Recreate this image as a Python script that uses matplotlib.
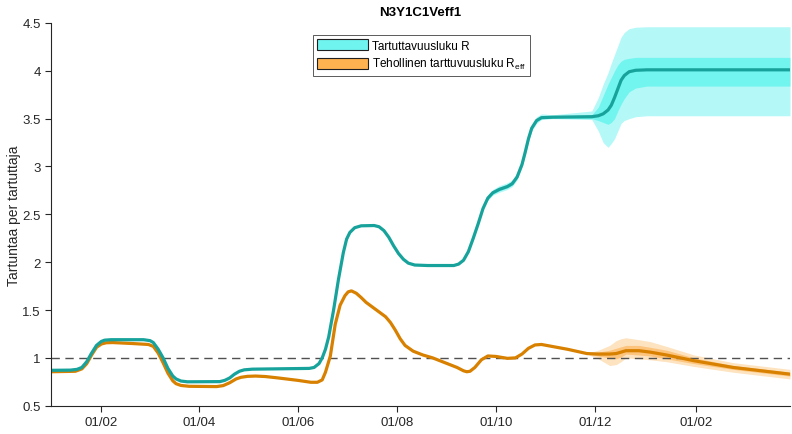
import pandas as pd
import matplotlib.pyplot as plt
import matplotlib.dates as mdates
from matplotlib.patches import Patch
from matplotlib.ticker import FuncFormatter

plt.rcParams['font.family'] = ['Liberation Sans', 'DejaVu Sans']

# Tartuttavuusluku R
r_dates = ['2020-01-01', '2020-01-13', '2020-01-17', '2020-01-20', '2020-01-23', '2020-01-26',
           '2020-01-29', '2020-02-01', '2020-02-03', '2020-02-07', '2020-02-27', '2020-03-02',
           '2020-03-04', '2020-03-07', '2020-03-10', '2020-03-13', '2020-03-16', '2020-03-18',
           '2020-03-21', '2020-03-25', '2020-04-14', '2020-04-17', '2020-04-20', '2020-04-23',
           '2020-04-26', '2020-04-29', '2020-05-04', '2020-06-08', '2020-06-11', '2020-06-14',
           '2020-06-16', '2020-06-18', '2020-06-20', '2020-06-23', '2020-06-26', '2020-06-29',
           '2020-07-01', '2020-07-03', '2020-07-06', '2020-07-10', '2020-07-18', '2020-07-21',
           '2020-07-24', '2020-07-27', '2020-07-30', '2020-08-02', '2020-08-05', '2020-08-08',
           '2020-08-12', '2020-08-20', '2020-09-05', '2020-09-08', '2020-09-11', '2020-09-14',
           '2020-09-17', '2020-09-20', '2020-09-23',
           '2020-09-26', '2020-09-29', '2020-10-03', '2020-10-08', '2020-10-11', '2020-10-14',
           '2020-10-17', '2020-10-19', '2020-10-21', '2020-10-23', '2020-10-26', '2020-10-29',
           '2020-11-05', '2020-11-29', '2020-12-03', '2020-12-06', '2020-12-09', '2020-12-11',
           '2020-12-13', '2020-12-15', '2020-12-17', '2020-12-19', '2020-12-22', '2020-12-26',
           '2021-01-02', '2021-03-31']
r_values = [0.87, 0.872, 0.88, 0.90, 0.96, 1.05,
            1.13, 1.172, 1.185, 1.19, 1.19, 1.18,
            1.16, 1.09, 1.00, 0.89, 0.81, 0.78,
            0.758, 0.75, 0.752, 0.765, 0.79, 0.83,
            0.86, 0.875, 0.882, 0.89, 0.90, 0.94,
            1.00, 1.09, 1.22, 1.50, 1.82, 2.10,
            2.24, 2.31, 2.36, 2.38, 2.383, 2.37,
            2.33, 2.26, 2.17, 2.09, 2.03, 1.99,
            1.97, 1.965, 1.965, 1.98, 2.02, 2.11,
            2.25, 2.40, 2.56,
            2.67, 2.725, 2.76, 2.79, 2.82, 2.89,
            3.02, 3.15, 3.29, 3.40, 3.48, 3.51,
            3.515, 3.52, 3.53, 3.55, 3.59, 3.64,
            3.72, 3.81, 3.90, 3.95, 3.99, 4.005,
            4.01, 4.01]

# uncertainty bands of R (from 26/09 on, same dates as the line)
r_band_dates = r_dates[57:]
r_outer_hi = [2.70, 2.76, 2.80, 2.83, 2.86, 2.93, 3.05, 3.18, 3.32, 3.43, 3.52, 3.55,
              3.54, 3.58, 3.72, 3.86, 3.98, 4.08, 4.17, 4.26, 4.35, 4.40, 4.44, 4.455,
              4.46, 4.46]
r_outer_lo = [2.645, 2.70, 2.73, 2.76, 2.79, 2.86, 2.99, 3.12, 3.26, 3.37, 3.45, 3.49,
              3.50, 3.49, 3.37, 3.25, 3.20, 3.24, 3.29, 3.37, 3.45, 3.48, 3.50, 3.52,
              3.53, 3.53]
r_inner_hi = [2.69, 2.745, 2.785, 2.815, 2.845, 2.91, 3.035, 3.165, 3.305, 3.415, 3.50, 3.53,
              3.525, 3.54, 3.62, 3.74, 3.86, 3.93, 4.00, 4.06, 4.10, 4.12, 4.13, 4.14,
              4.14, 4.14]
r_inner_lo = [2.655, 2.71, 2.745, 2.775, 2.805, 2.875, 3.005, 3.135, 3.275, 3.385, 3.465, 3.50,
              3.505, 3.50, 3.48, 3.46, 3.44, 3.46, 3.50, 3.58, 3.65, 3.71, 3.78, 3.82,
              3.84, 3.84]

# Tehollinen tarttuvuusluku Reff
reff_dates = ['2020-01-01', '2020-01-16', '2020-01-20', '2020-01-23', '2020-01-26', '2020-01-29',
              '2020-02-01', '2020-02-04', '2020-02-08', '2020-02-20', '2020-03-01', '2020-03-04',
              '2020-03-07', '2020-03-10', '2020-03-13', '2020-03-16', '2020-03-18', '2020-03-21',
              '2020-03-26', '2020-04-12', '2020-04-16', '2020-04-20', '2020-04-24', '2020-04-27',
              '2020-05-01', '2020-05-06', '2020-05-12', '2020-05-20', '2020-06-01', '2020-06-09',
              '2020-06-13', '2020-06-16', '2020-06-18', '2020-06-21', '2020-06-24', '2020-06-27',
              '2020-06-30', '2020-07-02', '2020-07-04', '2020-07-07', '2020-07-10', '2020-07-13',
              '2020-07-21', '2020-07-25', '2020-07-28', '2020-07-31', '2020-08-03', '2020-08-06',
              '2020-08-11', '2020-08-17', '2020-08-23', '2020-09-01', '2020-09-07', '2020-09-11',
              '2020-09-13', '2020-09-15', '2020-09-18', '2020-09-22', '2020-09-26', '2020-10-01',
              '2020-10-08', '2020-10-13', '2020-10-17', '2020-10-21', '2020-10-25', '2020-10-29',
              '2020-11-14',
              '2020-11-26', '2020-12-03', '2020-12-10', '2020-12-14', '2020-12-17', '2020-12-20',
              '2020-12-28', '2021-01-04', '2021-01-14', '2021-01-31', '2021-02-24', '2021-03-31']
reff_values = [0.855, 0.86, 0.885, 0.94, 1.03, 1.11,
               1.145, 1.158, 1.16, 1.15, 1.14, 1.12,
               1.05, 0.95, 0.84, 0.76, 0.73, 0.712,
               0.703, 0.70, 0.71, 0.74, 0.78, 0.797,
               0.807, 0.81, 0.805, 0.79, 0.765, 0.745,
               0.745, 0.77, 0.85, 1.02, 1.35, 1.55,
               1.65, 1.69, 1.70, 1.675, 1.63, 1.58,
               1.48, 1.43, 1.37, 1.29, 1.20, 1.13,
               1.07, 1.03, 1.00, 0.94, 0.90, 0.865,
               0.855, 0.86, 0.90, 0.98, 1.02, 1.015,
               0.995, 1.00, 1.04, 1.10, 1.135, 1.14,
               1.09,
               1.045, 1.04, 1.04, 1.045, 1.06, 1.075,
               1.075, 1.06, 1.03, 0.97, 0.90, 0.83]

reff_band_dates = reff_dates[67:]
reff_outer_hi = [1.05, 1.08, 1.13, 1.18, 1.20, 1.21, 1.19, 1.17, 1.12, 1.03, 0.95, 0.88]
reff_outer_lo = [1.04, 0.99, 0.92, 0.93, 0.96, 1.00, 0.99, 0.98, 0.96, 0.91, 0.85, 0.78]
reff_inner_hi = [1.05, 1.06, 1.08, 1.10, 1.115, 1.13, 1.13, 1.11, 1.08, 1.00, 0.92, 0.85]
reff_inner_lo = [1.04, 1.02, 1.00, 0.99, 1.01, 1.04, 1.03, 1.02, 0.99, 0.94, 0.88, 0.81]

tick_dates = ['2020-02-01', '2020-04-01', '2020-06-01', '2020-08-01', '2020-10-01',
              '2020-12-01', '2021-02-01']

r_x = pd.to_datetime(r_dates)
r_bx = pd.to_datetime(r_band_dates)
e_x = pd.to_datetime(reff_dates)
e_bx = pd.to_datetime(reff_band_dates)

fig = plt.figure(figsize=(7.92, 4.35), dpi=100)
ax = fig.add_axes([0.0644, 0.065, 0.933, 0.88])

# bands
ax.fill_between(e_bx, reff_outer_lo, reff_outer_hi, color='#fde3bf', lw=0)
ax.fill_between(e_bx, reff_inner_lo, reff_inner_hi, color='#fcc47c', lw=0)
ax.fill_between(r_bx, r_outer_lo, r_outer_hi, color='#b5f8f8', lw=0)
ax.fill_between(r_bx, r_inner_lo, r_inner_hi, color='#72f5ef', lw=0)

ax.axhline(1, color='#505050', lw=1, ls=(0, (6, 4)), zorder=1)

ax.plot(e_x, reff_values, color='#d88000', lw=2.3, solid_capstyle='round', solid_joinstyle='round')
ax.plot(r_x, r_values, color='#17a39b', lw=2.3, solid_capstyle='round', solid_joinstyle='round')

ax.set_xlim(pd.Timestamp('2020-01-01'), pd.Timestamp('2021-03-31'))
ax.set_ylim(0.5, 4.5)
ax.set_xticks(pd.to_datetime(tick_dates))
ax.xaxis.set_major_formatter(mdates.DateFormatter('%d/%m'))
ax.set_yticks([0.5, 1, 1.5, 2, 2.5, 3, 3.5, 4, 4.5])
ax.yaxis.set_major_formatter(FuncFormatter(lambda v, p: f'{v:g}'))

for s in ['top', 'right']:
    ax.spines[s].set_visible(False)
for s in ['left', 'bottom']:
    ax.spines[s].set_color('#262626')
    ax.spines[s].set_linewidth(0.8)
ax.tick_params(direction='out', length=4, width=0.8, color='#262626',
               labelsize=9.5, labelcolor='#262626')

ax.set_ylabel('Tartuntaa per tartuttaja', fontsize=10, color='#262626', labelpad=1)
ax.set_title('N3Y1C1Veff1', fontsize=9.5, fontweight='bold', pad=6)

handles = [Patch(facecolor='#70f4f0', edgecolor='#202020', lw=0.8),
           Patch(facecolor='#ffb250', edgecolor='#202020', lw=0.8)]
labels = ['Tartuttavuusluku R', r'Tehollinen tarttuvuusluku R$_{\mathregular{eff}}$']
leg = ax.legend(handles, labels, loc='upper left', bbox_to_anchor=(0.355, 0.968),
                fontsize=8.5, handlelength=4.3, handleheight=1.0, handletextpad=0.3,
                borderpad=0.35, labelspacing=0.4, fancybox=False, framealpha=1,
                edgecolor='#404040', borderaxespad=0)
leg.get_frame().set_linewidth(0.6)

plt.savefig('out.png', dpi=100)
